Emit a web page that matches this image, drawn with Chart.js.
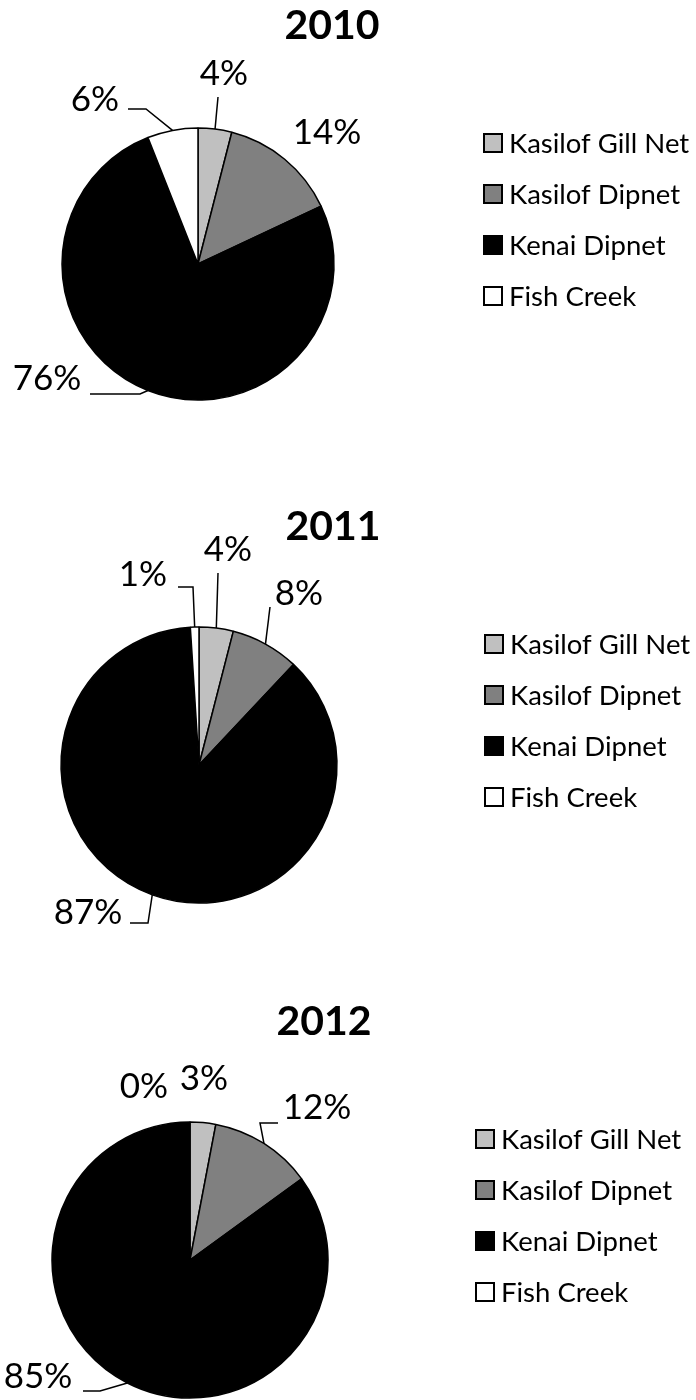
<!DOCTYPE html>
<html>
<head>
<meta charset="utf-8">
<script src="https://cdn.jsdelivr.net/npm/chart.js@4"></script>
<style>
  html, body { margin: 0; padding: 0; background: #fff; }
  #wrap { position: relative; width: 696px; height: 1400px; overflow: hidden; }
  #wrap canvas { position: absolute; left: 0; }
</style>
</head>
<body>
<div id="wrap">
  <canvas id="c2010" width="696" height="470" style="top:0px"></canvas>
  <canvas id="c2011" width="696" height="490" style="top:470px"></canvas>
  <canvas id="c2012" width="696" height="440" style="top:960px"></canvas>
</div>
<script>
// Share of the harvest by fishery, percent
const categories = ['Kasilof Gill Net', 'Kasilof Dipnet', 'Kenai Dipnet', 'Fish Creek'];
const years = ['2010', '2011', '2012'];
const share2010 = [4, 14, 76, 6];
const share2011 = [4, 8, 87, 1];
const share2012 = [3, 12, 85, 0];
const sharesByYear = [share2010, share2011, share2012];

const sliceColors = ['#c0c0c0', '#808080', '#000000', '#ffffff'];
const FONT = 'Lato, "Liberation Sans", sans-serif';

// Pie centre and radius inside each canvas; label spots and leader elbows are offsets from the centre.
const layouts = [
  { canvas: 'c2010', cx: 198, cy: 264, r: 136,
    spots: [
      { dx: 26,   dy: -190, leader: [[20, -167]] },
      { dx: 129,  dy: -131 },
      { dx: -151, dy: 115,  leader: [[-108, 130], [-58, 130]] },
      { dx: -103, dy: -164, leader: [[-70, -155], [-52, -155]] }
    ] },
  { canvas: 'c2011', cx: 199, cy: 295, r: 138,
    spots: [
      { dx: 29,   dy: -215, leader: [[19, -192]] },
      { dx: 100,  dy: -171, leader: [[71, -158]] },
      { dx: -111, dy: 148,  leader: [[-69, 158], [-51, 158]] },
      { dx: -56,  dy: -190, leader: [[-21, -178], [-6, -178]] }
    ] },
  { canvas: 'c2012', cx: 190, cy: 300, r: 138,
    spots: [
      { dx: 14,   dy: -181 },
      { dx: 127,  dy: -152, leader: [[88, -137], [70, -137]] },
      { dx: -152, dy: 117,  leader: [[-107, 131], [-90, 131]] },
      { dx: -46,  dy: -173 }
    ] }
];

// Title, percentage labels with leader lines, and the legend on the right
const pieDecor = {
  id: 'pieDecor',
  afterDatasetsDraw(chart, args, opts) {
    const ctx = chart.ctx;
    const meta = chart.getDatasetMeta(0);
    const values = chart.data.datasets[0].data;
    const colors = chart.data.datasets[0].backgroundColor;
    const first = meta.data[0];
    const cx = first.x, cy = first.y;
    ctx.save();

    // title
    ctx.fillStyle = '#000';
    ctx.font = 'bold 41px ' + FONT;
    ctx.textAlign = 'center';
    ctx.textBaseline = 'middle';
    ctx.fillText(opts.title, cx + 134, cy - 238);

    // data labels
    ctx.font = '35px ' + FONT;
    meta.data.forEach((arc, i) => {
      const spot = opts.spots[i];
      const p = arc.getProps(['x', 'y', 'startAngle', 'endAngle', 'outerRadius'], true);
      if (spot.leader) {
        const mid = (p.startAngle + p.endAngle) / 2;
        ctx.beginPath();
        ctx.lineWidth = 1.5;
        ctx.strokeStyle = '#000';
        spot.leader.forEach((pt, k) => {
          const x = cx + pt[0], y = cy + pt[1];
          if (k === 0) ctx.moveTo(x, y); else ctx.lineTo(x, y);
        });
        ctx.lineTo(p.x + Math.cos(mid) * p.outerRadius, p.y + Math.sin(mid) * p.outerRadius);
        ctx.stroke();
      }
      ctx.fillText(values[i] + '%', cx + spot.dx, cy + spot.dy);
    });

    // legend
    ctx.font = '27.5px ' + FONT;
    ctx.textAlign = 'left';
    chart.data.labels.forEach((lab, i) => {
      const rowY = cy - 121 + 51 * i;
      const bx = cx + 286;
      ctx.fillStyle = colors[i];
      ctx.fillRect(bx, rowY - 9, 18, 18);
      ctx.lineWidth = 2;
      ctx.strokeStyle = '#000';
      ctx.strokeRect(bx, rowY - 9, 18, 18);
      ctx.fillStyle = '#000';
      ctx.fillText(lab, bx + 25, rowY + 1);
    });
    ctx.restore();
  }
};

layouts.forEach((lay, idx) => {
  const canvas = document.getElementById(lay.canvas);
  const W = canvas.width, H = canvas.height, s = 100;
  new Chart(canvas, {
    type: 'pie',
    data: {
      labels: categories,
      datasets: [{
        data: sharesByYear[idx],
        backgroundColor: sliceColors,
        borderColor: '#000',
        borderWidth: 1.5,
        radius: lay.r,
        clip: false
      }]
    },
    options: {
      responsive: false,
      animation: false,
      layout: { padding: { left: lay.cx - s, right: W - lay.cx - s, top: lay.cy - s, bottom: H - lay.cy - s } },
      plugins: {
        legend: { display: false },
        tooltip: { enabled: false },
        pieDecor: { title: years[idx], spots: lay.spots }
      }
    },
    plugins: [pieDecor]
  });
});
</script>
</body>
</html>
